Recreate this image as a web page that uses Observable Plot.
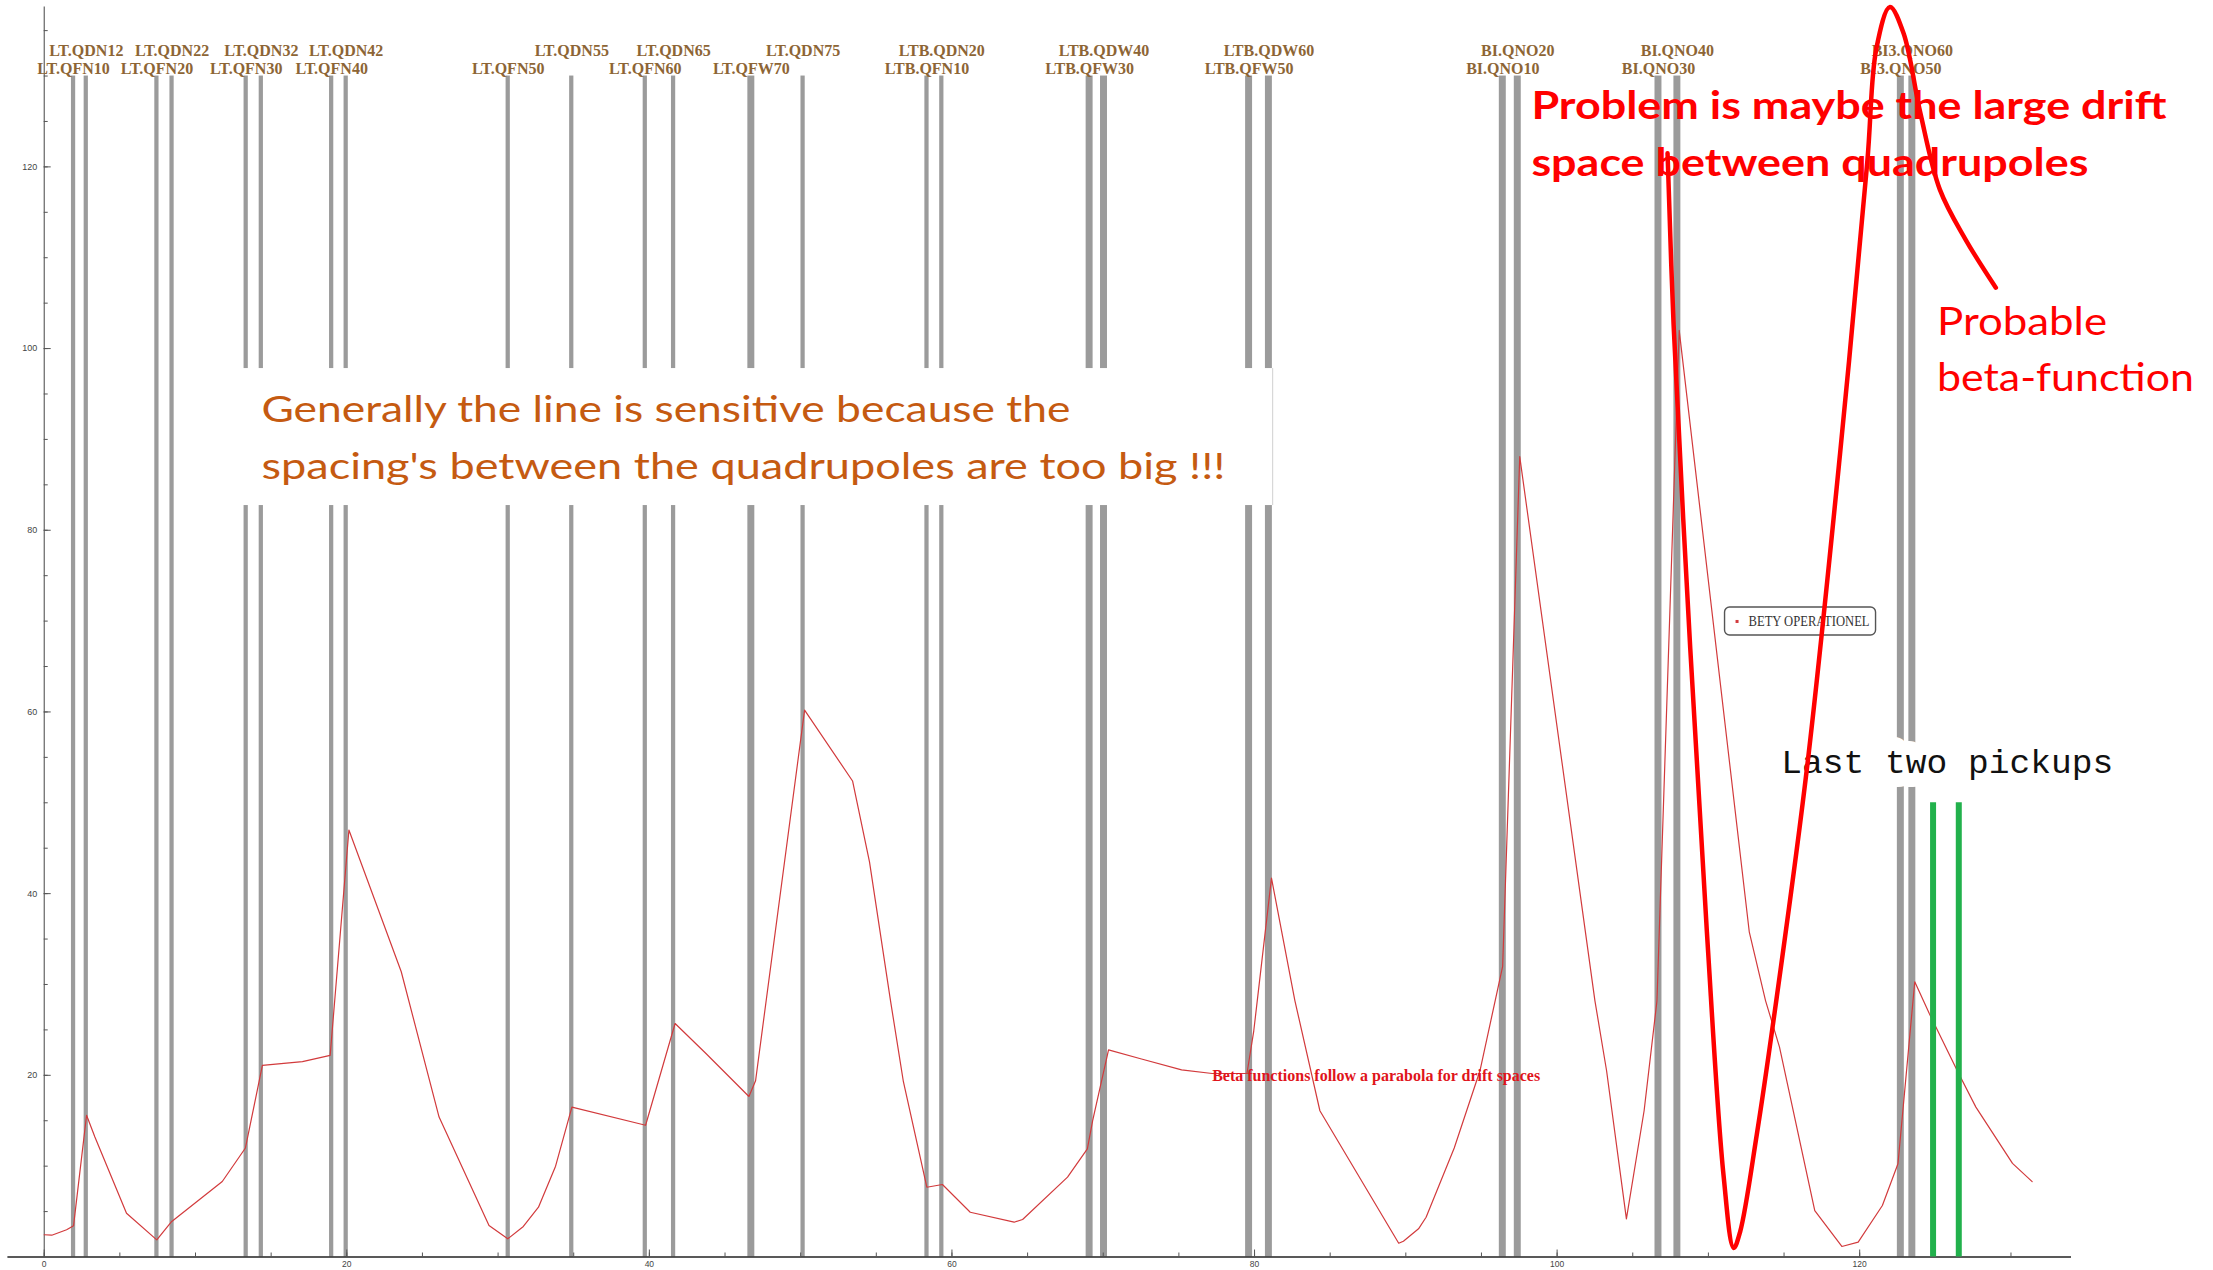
<!DOCTYPE html>
<html>
<head>
<meta charset="utf-8">
<script src="https://cdn.jsdelivr.net/npm/d3@7"></script>
<script src="https://cdn.jsdelivr.net/npm/@observablehq/plot@0.6"></script>
<style>
  html, body { margin: 0; padding: 0; background: #fff; overflow: hidden; }
  #chart { width: 2213px; height: 1270px; }
</style>
</head>
<body>
<div id="chart"></div>
<script>
// ---------- data ----------
const quadNames = [
  "LT.QFN10", "LT.QDN12", "LT.QFN20", "LT.QDN22", "LT.QFN30", "LT.QDN32",
  "LT.QFN40", "LT.QDN42", "LT.QFN50", "LT.QDN55", "LT.QFN60", "LT.QDN65",
  "LT.QFW70", "LT.QDN75", "LTB.QFN10", "LTB.QDN20", "LTB.QFW30", "LTB.QDW40",
  "LTB.QFW50", "LTB.QDW60", "BI.QNO10", "BI.QNO20", "BI.QNO30", "BI.QNO40",
  "BI3.QNO50", "BI3.QNO60"
];
const quadPositions = [
  1.94, 2.78, 7.45, 8.45, 13.35, 14.35, 19.0, 19.96, 30.67, 34.87, 39.73, 41.6,
  46.74, 50.16, 58.35, 59.33, 69.1, 70.05, 79.64, 80.95, 96.41, 97.4, 106.7, 107.95,
  122.72, 123.48
];
const quadLengths = [
  0.28, 0.28, 0.28, 0.28, 0.28, 0.28, 0.28, 0.28, 0.28, 0.28, 0.28, 0.28,
  0.46, 0.28, 0.28, 0.28, 0.46, 0.46, 0.46, 0.46, 0.46, 0.46, 0.46, 0.46,
  0.46, 0.46
];
const quadTop = 130;

const betaS = [0, 0.5, 1.48, 1.94, 2.8, 3.35, 5.44, 7.44, 8.43, 11.77, 13.3, 14.42, 17.07, 18.9, 20.14,
  23.6, 26.1, 29.4, 30.64, 31.67, 32.67, 33.8, 34.88, 39.75, 41.7, 43.74, 46.58, 47.02, 50.26, 53.43,
  54.55, 55.94, 56.78, 58.34, 59.37, 61.21, 64.11, 64.67, 67.64, 68.95, 69.3, 70.35, 72.53, 75.18, 77.2,
  79.5, 79.95, 81.12, 82.67, 84.32, 89.53, 89.84, 90.84, 91.34, 93.2, 94.9, 96.4, 97.53, 102.5, 103.27,
  104.58, 105.75, 106.6, 108.07, 112.7, 113.78, 114.7, 117.03, 118.82, 119.9, 121.5, 122.53, 123.64,
  124.6, 126.45, 127.68, 130.1, 131.4];
const betaY = [2.45, 2.4, 3.0, 3.45, 15.6, 13.2, 4.82, 1.89, 3.91, 8.31, 12.0, 21.1, 21.5, 22.2, 47.0,
  31.4, 15.4, 3.47, 2.0, 3.36, 5.48, 10.0, 16.5, 14.5, 25.7, 22.4, 17.67, 19.4, 60.2, 52.4,
  43.5, 28.2, 19.4, 7.68, 7.98, 4.93, 3.83, 4.13, 8.79, 11.9, 15.0, 22.8, 21.8, 20.6, 20.2,
  20.2, 24.9, 41.7, 28.2, 16.1, 1.52, 1.74, 3.1, 4.38, 12.0, 20.5, 32.0, 88.1, 28.2, 20.5,
  4.2, 16.1, 28.2, 102.0, 35.8, 28.2, 23.1, 5.1, 1.16, 1.63, 5.67, 10.26, 30.3,
  26.8, 20.5, 16.5, 10.3, 8.3];

// hand-drawn "probable beta-function"
const probableS = [107.3, 107.7, 108.8, 109.9, 111.0, 111.67, 112.1, 113.2, 114.3, 116.5, 118.7, 120.5, 121.1, 122.0, 122.9, 124.0, 125.3, 127.0, 129.0];
const probableY = [121.5, 102.6, 67.0, 35.8, 9.0, 1.0, 2.8, 13.5, 26.0, 53.6, 88.4, 120.5, 133.0, 137.6, 134.7, 126.0, 117.5, 112.0, 106.7];

const pickupS = [124.85, 126.55];
const pickupTop = 50;

const xTickValues = [0, 20, 40, 60, 80, 100, 120];
const yTickValues = [20, 40, 60, 80, 100, 120];
const xMinorTicks = d3.range(0, 135, 5);
const yMinorTicks = d3.range(5, 137, 5);

// ---------- annotations ----------
const orangeNote = [
  {text: "Generally the line is sensitive because the", x: 14.36, y: 91.89},
  {text: "spacing's between the quadrupoles are too big !!!", x: 14.36, y: 85.66}
];
const orangeBox = {x1: 12.84, x2: 81.2, y1: 82.72, y2: 97.8};
const problemNote = [
  {text: "Problem is maybe the large drift", x: 98.3, y: 125.28},
  {text: "space between quadrupoles", x: 98.3, y: 119.04}
];
const probableNote = [
  {text: "Probable", x: 125.11, y: 101.54},
  {text: "beta-function", x: 125.11, y: 95.38}
];
const driftNote = [{text: "Beta functions follow a parabola for drift spaces", x: 77.2, y: 19.35}];
const pickupNote = [{text: "Last two pickups", x: 114.82, y: 53.33}];
const legendAt = {x: 111.1, y: 71.5, label: "BETY OPERATIONEL"};

const textLengths = {
  "Generally the line is sensitive because the": 809,
  "spacing's between the quadrupoles are too big !!!": 964,
  "Problem is maybe the large drift": 635,
  "space between quadrupoles": 557,
  "Probable": 170,
  "beta-function": 257,
  "Beta functions follow a parabola for drift spaces": 328,
  "Last two pickups": 332
};

// ---------- build ----------
const quads = quadNames.map((name, i) => ({name, s: quadPositions[i], len: quadLengths[i], row: i % 2 === 0 ? 2 : 1}));
const beta = betaS.map((s, i) => ({s, b: betaY[i]}));
const probable = probableS.map((s, i) => ({s, b: probableY[i]}));

const labelFont = {fontFamily: "Liberation Serif", fontWeight: "bold", fontSize: 16, fill: "#8d6535"};

const chart = Plot.plot({
  width: 2213,
  height: 1270,
  marginLeft: 7.4,
  marginRight: 142,
  marginTop: 6.5,
  marginBottom: 13.5,
  x: {domain: [-2.4, 134], axis: null},
  y: {domain: [0, 137.6], axis: null},
  style: {fontFamily: "Liberation Sans", background: "white"},
  marks: [
    // quadrupoles
    Plot.rect(quads, {x1: d => d.s - d.len / 2, x2: d => d.s + d.len / 2, y1: 0, y2: quadTop, fill: "#9b9b9b"}),
    // axes
    Plot.ruleY([0], {x1: -2.4, x2: 134, stroke: "#222", strokeWidth: 1.6}),
    Plot.ruleX([0], {y1: 0, y2: 137.6, stroke: "#444", strokeWidth: 1}),
    Plot.ruleX(xMinorTicks, {x: d => d, y1: 0, y2: 0, insetBottom: 4, stroke: "#555"}),
    Plot.ruleX(xTickValues, {x: d => d, y1: 0, y2: 0, insetBottom: 7, stroke: "#555"}),
    Plot.ruleY(yMinorTicks, {y: d => d, x1: 0, x2: 0, insetRight: -4, stroke: "#555"}),
    Plot.ruleY(yTickValues, {y: d => d, x1: 0, x2: 0, insetRight: -7, stroke: "#555"}),
    Plot.text(xTickValues, {x: d => d, y: 0, dy: 7, text: d => String(d), fontSize: 8.5, fill: "#444"}),
    Plot.text(yTickValues, {x: 0, y: d => d, dx: -7, textAnchor: "end", text: d => String(d), fontSize: 9, fill: "#444"}),
    // beta function
    Plot.line(beta, {x: "s", y: "b", stroke: "#d23a3c", strokeWidth: 1.2}),
    // orange note box
    Plot.rect([orangeBox], {x1: "x1", x2: "x2", y1: "y1", y2: "y2", fill: "white"}),
    Plot.ruleX([orangeBox], {x: "x2", y1: "y1", y2: "y2", stroke: "#d0d0d0", strokeWidth: 1}),
    Plot.text(orangeNote, {x: "x", y: "y", text: "text", textAnchor: "start", lineAnchor: "bottom",
      fontFamily: "Lato", fontSize: 37, fill: "#c55a11"}),
    // quad labels
    Plot.text(quads.filter(d => d.row === 1), {x: "s", y: quadTop, text: "name", dy: -20, lineAnchor: "bottom", ...labelFont}),
    Plot.text(quads.filter(d => d.row === 2), {x: "s", y: quadTop, text: "name", dy: -2.5, lineAnchor: "bottom", ...labelFont}),
    // drift note
    Plot.text(driftNote, {x: "x", y: "y", text: "text", textAnchor: "start", lineAnchor: "bottom",
      fontFamily: "Liberation Serif", fontWeight: "bold", fontSize: 16.5, fill: "#e0141b"}),
    // pickups note
    Plot.text(pickupNote, {x: "x", y: "y", text: "text", textAnchor: "start", lineAnchor: "bottom",
      fontFamily: "Liberation Mono", fontSize: 34, fill: "#111", stroke: "white", strokeWidth: 28, strokeLinejoin: "round"}),
    // hand-drawn probable beta function
    Plot.line(probable, {x: "s", y: "b", stroke: "#ff0000", strokeWidth: 4.5, curve: "catmull-rom", ariaDescription: "probable beta-function"}),
    Plot.text(problemNote, {x: "x", y: "y", text: "text", textAnchor: "start", lineAnchor: "bottom",
      fontFamily: "Lato", fontWeight: "bold", fontSize: 39, fill: "#ff0000"}),
    Plot.text(probableNote, {x: "x", y: "y", text: "text", textAnchor: "start", lineAnchor: "bottom",
      fontFamily: "Lato", fontSize: 39, fill: "#ff0000"}),
    // last two pickups
    Plot.ruleX(pickupS, {x: d => d, y1: 0, y2: pickupTop, stroke: "#22b14c", strokeWidth: 6})
  ]
});

// narrow the Calibri-like annotations to their measured widths
d3.select(chart).selectAll("text").each(function () {
  const t = this.textContent;
  if (textLengths[t]) {
    this.setAttribute("textLength", textLengths[t]);
    this.setAttribute("lengthAdjust", "spacingAndGlyphs");
  }
});

// legend box (below the hand-drawn curve)
const xs = chart.scale("x"), ys = chart.scale("y");
const lx = xs.apply(legendAt.x), ly = ys.apply(legendAt.y);
const lg = d3.create("svg:g");
lg.append("rect").attr("x", lx).attr("y", ly).attr("width", 151).attr("height", 28).attr("rx", 5)
  .attr("fill", "white").attr("stroke", "#555").attr("stroke-width", 1.4);
lg.append("rect").attr("x", lx + 11).attr("y", ly + 13).attr("width", 3).attr("height", 3).attr("fill", "#d23a3c");
lg.append("text").attr("x", lx + 24).attr("y", ly + 19.5).attr("text-anchor", "start")
  .attr("font-family", "Liberation Serif").attr("font-size", 15)
  .attr("fill", "#333").attr("textLength", 121).attr("lengthAdjust", "spacingAndGlyphs").text(legendAt.label);
const target = chart.querySelector('[aria-description="probable beta-function"]');
if (target) chart.insertBefore(lg.node(), target); else chart.appendChild(lg.node());

document.getElementById("chart").appendChild(chart);
</script>
</body>
</html>
